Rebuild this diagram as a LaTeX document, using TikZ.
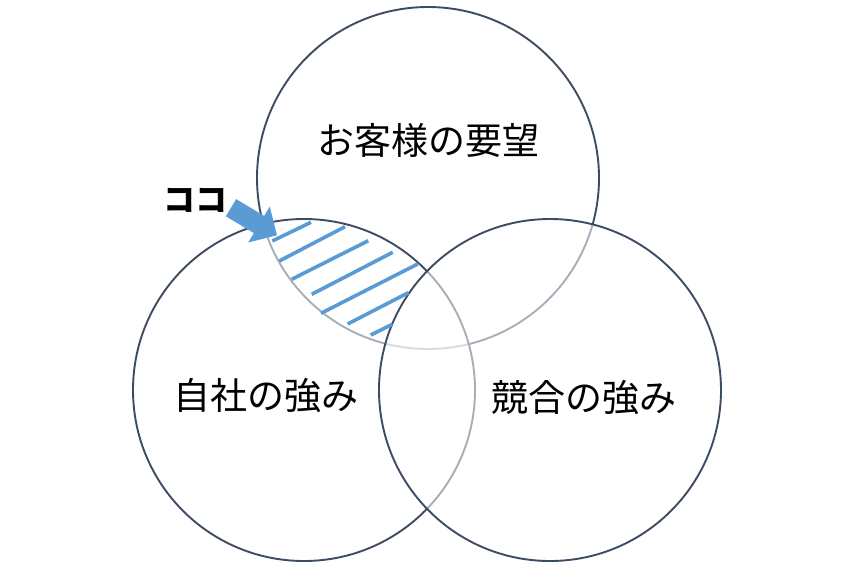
\documentclass[tikz,border=0pt]{standalone}
\usepackage{xcolor}
\usepackage{fontspec}
\setmainfont{Noto Sans CJK JP}
\usepackage{tikz}

\definecolor{ringcol}{HTML}{3E4C63}
\definecolor{hatchcol}{HTML}{5B9BD5}

\tikzset{
  ring/.style={circle, draw=ringcol, line width=1.9pt, minimum size=342pt, inner sep=0pt},
  veil/.style={fill=white, fill opacity=0.55},
  label/.style={font=\fontsize{37}{37}\selectfont, text=black},
  hatch/.style={draw=hatchcol, line width=3.6pt}
}

\begin{document}
\begin{tikzpicture}[x=1pt, y=-1pt]
        \useasboundingbox (0,0) rectangle (854,568);

        % Circles (later ones lie over the earlier ones)
        \node[ring] (want) at (428,178) {};
        \node[ring, veil] (own) at (304,390) {};
        \node[ring, veil] (rival) at (550,390) {};

        % Hatching
        \draw[hatch] (272.3,241) -- (311,222.3);
        \draw[hatch] (279.3,261) -- (345,226.7);
        \draw[hatch] (291.7,279.3) -- (368.3,240.7);
        \draw[hatch] (311.7,294.3) -- (392.7,252.3);
        \draw[hatch] (321,313.3) -- (417.7,264);
        \draw[hatch] (347.7,324) -- (408.3,292.7);
        \draw[hatch] (370.7,335) -- (392.3,324.3);

        % Labels
        \node[label] (wantlbl) at (428,140) {お客様の要望};
        \node[label] (ownlbl) at (266,396) {自社の強み};
        \node[label] (rivallbl) at (584,398) {競合の強み};

        % Pointer
        \node[font=\fontsize{32}{32}\bfseries] (koko) at (195.5,200.5) {ココ};
        \fill[hatchcol] (236.15,199.12) -- (264.15,215.92) -- (269.8,206.5) -- (277,235.3)
          -- (248.2,242.5) -- (253.85,233.08) -- (225.85,216.28) -- cycle;
    \end{tikzpicture}
\end{document}
